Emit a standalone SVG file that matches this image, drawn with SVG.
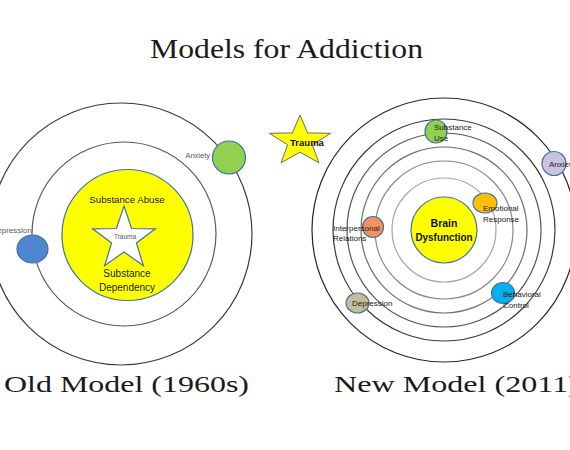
<svg xmlns="http://www.w3.org/2000/svg" width="570" height="450" viewBox="0 0 570 450">
<style>
.bg{fill:#ffffff}
.serif{font-family:"Liberation Serif","Times New Roman",serif;fill:#1a1a1a}
.lbl{font-family:"Liberation Sans",Arial,sans-serif}
.sat{stroke:#41719C;stroke-width:1.2}
.ring{fill:none;stroke-width:1.2}
.small{font-size:8px;fill:#1a1a1a}
.gray{fill:#595959}
</style>
<rect class="bg" x="0" y="0" width="570" height="450"/>
<text class="serif" x="150" y="58" font-size="27" textLength="273" lengthAdjust="spacingAndGlyphs">Models for Addiction</text>

<g id="old-model">
  <g id="old-orbits">
    <circle class="ring" cx="121" cy="234" r="131" stroke="#3a3a3a" stroke-width="1.3"/>
    <circle class="ring" cx="124" cy="234" r="92" stroke="#595959"/>
  </g>
  <g id="old-core">
    <circle cx="127.5" cy="235" r="65.5" fill="#FFFF00" stroke="#41719C" stroke-width="1.2"/>
    <text class="lbl" x="127" y="202.5" font-size="9.7" text-anchor="middle" fill="#1a1a1a">Substance Abuse</text>
    <text class="lbl" x="127" y="277" font-size="10" text-anchor="middle" fill="#1a1a1a">Substance</text>
    <text class="lbl" x="127" y="290.5" font-size="10" text-anchor="middle" fill="#1a1a1a">Dependency</text>
  </g>
  <g id="old-trauma">
    <polygon points="124,206 131.6,228.5 155.4,228.8 136.4,243 143.4,265.7 124,252 104.6,265.7 111.6,243 92.6,228.8 116.4,228.5" fill="#ffffff" stroke="#41719C" stroke-width="1.2"/>
    <text class="lbl gray" x="125" y="239" font-size="6.5" text-anchor="middle">Trauma</text>
  </g>
  <g id="old-anxiety">
    <circle class="sat" cx="229" cy="157.5" r="16.5" fill="#92D050"/>
    <text class="lbl gray" x="210" y="158" font-size="7.5" text-anchor="end">Anxiety</text>
  </g>
  <g id="old-depression">
    <ellipse class="sat" cx="32.5" cy="249" rx="15.5" ry="14" fill="#4E87CF"/>
    <text class="lbl gray" x="32" y="233" font-size="8" text-anchor="end">Depression</text>
  </g>
  <text class="serif" x="4" y="392" font-size="23" textLength="245" lengthAdjust="spacingAndGlyphs">Old Model (1960s)</text>
</g>

<g id="trauma-star">
  <polygon points="300,115 307.6,132.9 330.7,133.3 312.3,144.8 319,162.9 300,152.1 281,162.9 287.7,144.8 269.3,133.3 292.4,132.9" fill="#FFFF00" stroke="#6b6b6b" stroke-width="1"/>
  <text class="lbl" x="307" y="146" font-size="9.5" font-weight="bold" text-anchor="middle" fill="#111">Trauma</text>
</g>

<g id="new-model">
  <g id="new-orbits">
    <circle class="ring" cx="444" cy="230" r="132" stroke="#262626"/>
    <circle class="ring" cx="444" cy="230" r="111" stroke="#3a3a3a"/>
    <circle class="ring" cx="444" cy="230" r="97" stroke="#555555"/>
    <circle class="ring" cx="444" cy="230" r="83" stroke="#6e6e6e"/>
    <circle class="ring" cx="444" cy="230" r="69" stroke="#888888"/>
    <circle class="ring" cx="444" cy="230" r="52" stroke="#a6a6a6"/>
  </g>
  <g id="brain">
    <circle cx="444" cy="230" r="33" fill="#FFFF00" stroke="#41719C" stroke-width="1.2"/>
    <text class="lbl" x="444" y="227" font-size="10.5" font-weight="bold" text-anchor="middle" fill="#111">Brain</text>
    <text class="lbl" x="444" y="240.5" font-size="10.5" font-weight="bold" text-anchor="middle" fill="#111" textLength="57" lengthAdjust="spacingAndGlyphs">Dysfunction</text>
  </g>
  <g id="substance-use">
    <ellipse class="sat" cx="436" cy="131.5" rx="11" ry="11.5" fill="#92D050"/>
    <text class="lbl small" x="434" y="130">Substance</text>
    <text class="lbl small" x="434" y="141">Use</text>
  </g>
  <g id="new-anxiety">
    <circle class="sat" cx="554" cy="163.5" r="12" fill="#C9C3E0"/>
    <text class="lbl small" x="549" y="166.5">Anxiety</text>
  </g>
  <g id="emotional-response">
    <ellipse class="sat" cx="485" cy="203" rx="12" ry="10" fill="#FFC000"/>
    <text class="lbl small" x="483" y="211">Emotional</text>
    <text class="lbl small" x="483" y="222">Response</text>
  </g>
  <g id="interpersonal-relations">
    <circle class="sat" cx="373" cy="227" r="10.5" fill="#F4915E"/>
    <text class="lbl small" x="333" y="230.5">Interpersonal</text>
    <text class="lbl small" x="333" y="241">Relations</text>
  </g>
  <g id="new-depression">
    <ellipse class="sat" cx="357.5" cy="303" rx="11.5" ry="10" fill="#C4BD97"/>
    <text class="lbl small" x="352" y="306">Depression</text>
  </g>
  <g id="behavioral-control">
    <ellipse class="sat" cx="503" cy="293" rx="11.5" ry="10.5" fill="#00B0F0"/>
    <text class="lbl small" x="503" y="297">Behavioral</text>
    <text class="lbl small" x="503" y="308">Control</text>
  </g>
  <text class="serif" x="334" y="392" font-size="23" textLength="245" lengthAdjust="spacingAndGlyphs">New Model (2011)</text>
</g>
<g id="connectors"/>
</svg>
